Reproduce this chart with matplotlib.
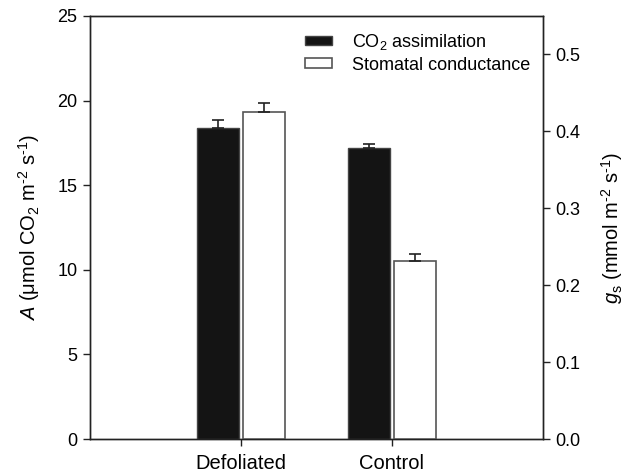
import matplotlib
matplotlib.use("Agg")
import matplotlib.pyplot as plt
import numpy as np

plt.rcParams['font.family'] = ['Liberation Sans', 'DejaVu Sans']
plt.rcParams['mathtext.fontset'] = 'custom'
plt.rcParams['mathtext.rm'] = 'Liberation Sans'
plt.rcParams['mathtext.it'] = 'Liberation Sans:italic'
plt.rcParams['mathtext.bf'] = 'Liberation Sans:bold'

categories = ['Defoliated', 'Control']
A_values = [18.4, 17.22]
A_errors = [0.43, 0.24]
gs_values = [0.425, 0.232]
gs_errors = [0.012, 0.009]

fig = plt.figure(figsize=(6.35, 4.75), dpi=100)
ax = fig.add_axes([90/635, 1-439/475, (543-90)/635, (439-16)/475])
ax2 = ax.twinx()

x = np.arange(1, len(categories) + 1)
w = 0.278
gap = 0.013

ax.bar(x - gap - w/2, A_values, w, color='#141414', edgecolor='#444444', linewidth=1.0,
       yerr=[np.zeros(len(A_errors)), A_errors], error_kw=dict(ecolor='#222222', elinewidth=1.2, capsize=4.5, capthick=1.2),
       label='CO$_2$ assimilation', zorder=3)
ax2.bar(x + gap + w/2, gs_values, w, color='white', edgecolor='#555555', linewidth=1.2,
        yerr=[np.zeros(len(gs_errors)), gs_errors], error_kw=dict(ecolor='#222222', elinewidth=1.2, capsize=4.5, capthick=1.2),
        label='Stomatal conductance', zorder=3)

ax.set_xlim(0, 3)
ax.set_ylim(0, 25)
ax2.set_ylim(0, 0.55)
ax.set_xticks(x)
ax.set_xticklabels(categories, fontsize=14.5)
ax.set_yticks([0, 5, 10, 15, 20, 25])
ax.set_yticklabels(['0', '5', '10', '15', '20', '25'], fontsize=13)
ax2.set_yticks([0.0, 0.1, 0.2, 0.3, 0.4, 0.5])
ax2.set_yticklabels(['0.0', '0.1', '0.2', '0.3', '0.4', '0.5'], fontsize=13)

for a in (ax, ax2):
    a.tick_params(direction='out', length=5, width=1.0, color='#222222', pad=4)
    for s in a.spines.values():
        s.set_linewidth(1.0)
        s.set_color('#222222')
ax.tick_params(axis='x', pad=6)

hy = '\u2010'
ax.set_ylabel(r'$\it{A}$ ($\mathrm{\mu}$mol CO$_2$ m$^{' + hy + r'2}$ s$^{' + hy + r'1}$)', fontsize=14.5, labelpad=11)
ax2.set_ylabel(r'$\it{g}_\mathrm{s}$ (mmol m$^{' + hy + r'2}$ s$^{' + hy + r'1}$)', fontsize=14.5, labelpad=13)

h1, l1 = ax.get_legend_handles_labels()
h2, l2 = ax2.get_legend_handles_labels()
leg = ax2.legend(h1 + h2, l1 + l2, loc='upper right', bbox_to_anchor=(1.0, 0.992), frameon=False,
                 fontsize=13, handlelength=1.5, handleheight=0.45, handletextpad=1.1, labelspacing=0.25,
                 borderaxespad=0.3)

fig.savefig('out.png', dpi=100)
